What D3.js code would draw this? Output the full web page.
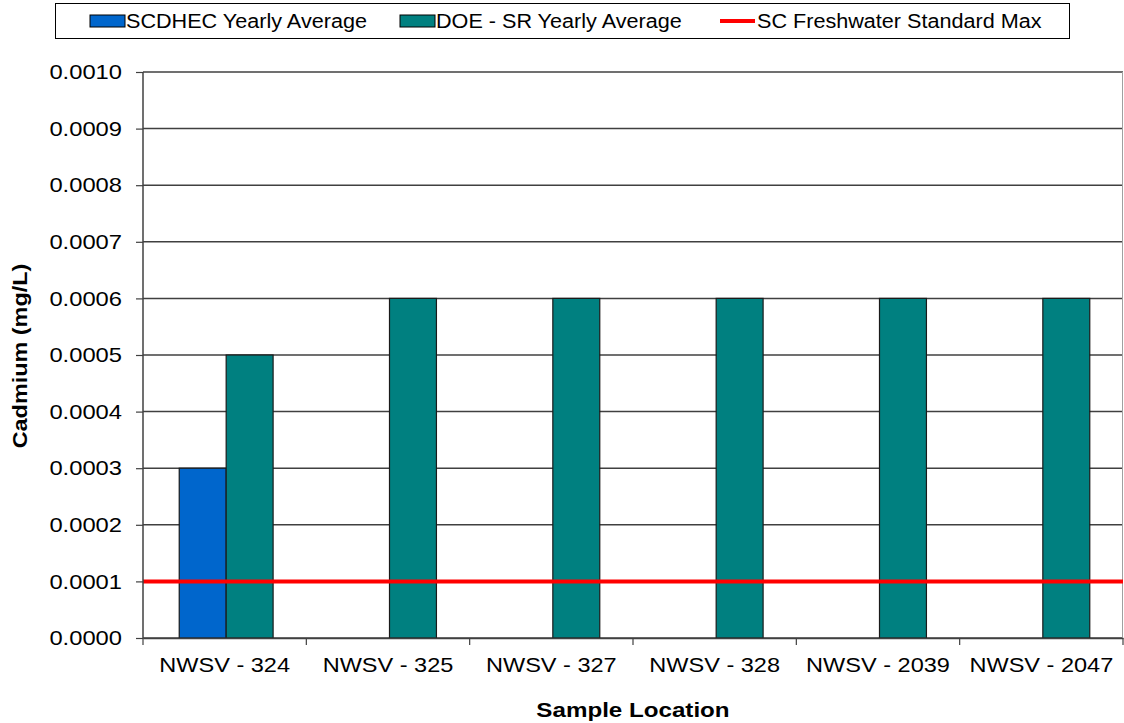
<!DOCTYPE html>
<html>
<head>
<meta charset="utf-8">
<script src="https://cdn.jsdelivr.net/npm/d3@7"></script>
<style>
  body { margin: 0; background: #fff; }
  svg { display: block; font-family: "Liberation Sans", Arial, sans-serif; }
</style>
</head>
<body>
<svg id="chart" width="1124" height="723"></svg>
<script>
// Cadmium yearly averages by sample location
const categories = ["NWSV - 324", "NWSV - 325", "NWSV - 327", "NWSV - 328", "NWSV - 2039", "NWSV - 2047"];
const scdhecValues = [0.0003, null, null, null, null, null];
const doeValues = [0.0005, 0.0006, 0.0006, 0.0006, 0.0006, 0.0006];
const standardMax = 0.0001;
const yTicks = [0, 0.0001, 0.0002, 0.0003, 0.0004, 0.0005, 0.0006, 0.0007, 0.0008, 0.0009, 0.0010];
const seriesNames = ["SCDHEC Yearly Average", "DOE - SR Yearly Average", "SC Freshwater Standard Max"];
const seriesColors = ["#0066cc", "#008080", "#ff0000"];

const svg = d3.select("#chart");
const margin = { left: 143, right: 1123, top: 72, bottom: 638 };

// widen glyphs horizontally to the wide sans look of the chart text
function widen(sel, factor) {
  sel.each(function () {
    const w = this.getComputedTextLength();
    d3.select(this).attr("textLength", w * factor).attr("lengthAdjust", "spacingAndGlyphs");
  });
}

const x = d3.scaleBand().domain(categories).range([margin.left, margin.right]).paddingInner(0).paddingOuter(0);
const xInner = d3.scaleBand().domain([0, 1]).range([0, x.bandwidth()]).paddingInner(0).paddingOuter(0.74);
const y = d3.scaleLinear().domain([0, 0.001]).range([margin.bottom, margin.top]);

// horizontal gridlines
svg.append("g")
  .selectAll("line")
  .data(yTicks)
  .join("line")
  .attr("x1", margin.left).attr("x2", margin.right)
  .attr("y1", d => y(d)).attr("y2", d => y(d))
  .attr("stroke", "#404040").attr("stroke-width", 1.5);

// right edge of plot area
svg.append("line")
  .attr("x1", margin.right - 0.5).attr("x2", margin.right - 0.5)
  .attr("y1", margin.top).attr("y2", margin.bottom)
  .attr("stroke", "#a0a0a0").attr("stroke-width", 1);

// bars
const series = [scdhecValues, doeValues];
series.forEach((vals, si) => {
  svg.append("g")
    .selectAll("rect")
    .data(categories.map((c, i) => ({ c, v: vals[i] })).filter(d => d.v != null))
    .join("rect")
    .attr("x", d => x(d.c) + xInner(si) + 1.5)
    .attr("width", xInner.bandwidth())
    .attr("y", d => y(d.v))
    .attr("height", d => y(0) - y(d.v))
    .attr("fill", seriesColors[si])
    .attr("stroke", "#1a1a1a").attr("stroke-width", 1.2);
});

// standard max line
svg.append("line")
  .attr("x1", margin.left).attr("x2", margin.right)
  .attr("y1", y(standardMax)).attr("y2", y(standardMax))
  .attr("stroke", seriesColors[2]).attr("stroke-width", 4);

// y axis
const yAxis = d3.axisLeft(y).tickValues(yTicks).tickFormat(d3.format(".4f")).tickSize(7).tickPadding(14);
const yg = svg.append("g").attr("transform", `translate(${margin.left},0)`).call(yAxis);
yg.select(".domain").attr("stroke", "#404040").attr("stroke-width", 1.5).attr("d", `M0,${margin.top}V${margin.bottom}`);
yg.selectAll(".tick line").attr("stroke", "#404040").attr("stroke-width", 1.2);
yg.selectAll(".tick text").attr("font-size", 21).attr("fill", "#000").attr("font-family", "Liberation Sans, Arial, sans-serif");
widen(yg.selectAll(".tick text"), 1.13);

// x axis
const xAxis = d3.axisBottom(x).tickSize(0).tickPadding(19);
const xg = svg.append("g").attr("transform", `translate(0,${margin.bottom})`).call(xAxis);
xg.select(".domain").attr("stroke", "#404040").attr("stroke-width", 1.5);
xg.selectAll(".tick text").attr("font-size", 21).attr("fill", "#000").attr("font-family", "Liberation Sans, Arial, sans-serif");
widen(xg.selectAll(".tick text"), 1.12);
// category boundary ticks
const bounds = categories.map(c => x(c)).concat([margin.right]);
svg.append("g").selectAll("line").data(bounds).join("line")
  .attr("x1", d => d).attr("x2", d => d)
  .attr("y1", margin.bottom).attr("y2", margin.bottom + 7)
  .attr("stroke", "#404040").attr("stroke-width", 1.2);

// axis titles
const yTitle = svg.append("text")
  .attr("transform", `translate(27,${(margin.top + margin.bottom) / 2 + 1}) rotate(-90)`)
  .attr("text-anchor", "middle")
  .attr("font-size", 20).attr("font-weight", "bold")
  .text("Cadmium (mg/L)");
widen(yTitle, 1.17);
const xTitle = svg.append("text")
  .attr("x", (margin.left + margin.right) / 2).attr("y", 717)
  .attr("text-anchor", "middle")
  .attr("font-size", 21).attr("font-weight", "bold")
  .text("Sample Location");
widen(xTitle, 1.15);

// legend
const legend = svg.append("g");
legend.append("rect")
  .attr("x", 55.5).attr("y", 3.5).attr("width", 1014).attr("height", 35)
  .attr("fill", "#fff").attr("stroke", "#000").attr("stroke-width", 1);
const legendX = [90, 400, 720];
seriesNames.forEach((name, i) => {
  const g = legend.append("g").attr("transform", `translate(${legendX[i]},21)`);
  if (i < 2) {
    g.append("rect").attr("x", 0).attr("y", -6).attr("width", 35).attr("height", 12)
      .attr("fill", seriesColors[i]).attr("stroke", "#000").attr("stroke-width", 1);
  } else {
    g.append("line").attr("x1", 0).attr("x2", 35).attr("y1", 0).attr("y2", 0)
      .attr("stroke", seriesColors[i]).attr("stroke-width", 4);
  }
  const t = g.append("text").attr("x", i < 2 ? 36 : 37).attr("y", 7).attr("font-size", 20).text(name);
  widen(t, 1.08);
});
</script>
</body>
</html>
